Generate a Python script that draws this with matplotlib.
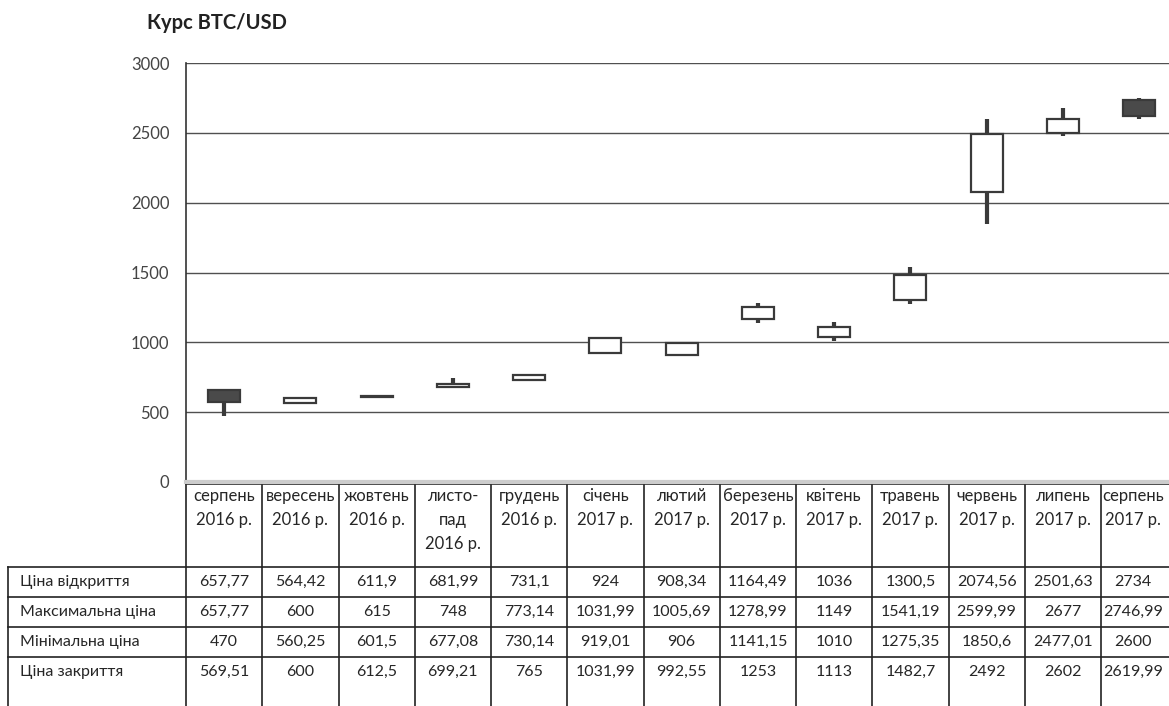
import matplotlib
matplotlib.use('Agg')
import matplotlib.pyplot as plt
import matplotlib.transforms as mtransforms

months = ['серпень\n2016 р.', 'вересень\n2016 р.', 'жовтень\n2016 р.', 'листо-\nпад\n2016 р.',
          'грудень\n2016 р.', 'січень\n2017 р.', 'лютий\n2017 р.', 'березень\n2017 р.',
          'квітень\n2017 р.', 'травень\n2017 р.', 'червень\n2017 р.', 'липень\n2017 р.',
          'серпень\n2017 р.']
open_p = [657.77, 564.42, 611.9, 681.99, 731.1, 924, 908.34, 1164.49, 1036, 1300.5, 2074.56, 2501.63, 2734]
high_p = [657.77, 600, 615, 748, 773.14, 1031.99, 1005.69, 1278.99, 1149, 1541.19, 2599.99, 2677, 2746.99]
low_p = [470, 560.25, 601.5, 677.08, 730.14, 919.01, 906, 1141.15, 1010, 1275.35, 1850.6, 2477.01, 2600]
close_p = [569.51, 600, 612.5, 699.21, 765, 1031.99, 992.55, 1253, 1113, 1482.7, 2492, 2602, 2619.99]
row_names = ['Ціна відкриття', 'Максимальна ціна', 'Мінімальна ціна', 'Ціна закриття']
yticks = [0, 500, 1000, 1500, 2000, 2500, 3000]

plt.rcParams['font.family'] = ['Lato', 'DejaVu Sans']

W, H = 1169, 706
fig = plt.figure(figsize=(W / 100, H / 100), dpi=100)
ax = fig.add_axes([186 / W, (H - 482) / H, 991.25 / W, 419 / H])

dark = '#3a3a3a'
txt = '#262626'
n = len(months)
xs = list(range(n))

# candles
ax.vlines(xs, low_p, high_p, color=dark, lw=3, zorder=3)
for i in xs:
    o, c = open_p[i], close_p[i]
    bottom = min(o, c)
    height = max(abs(c - o), 4)
    face = '#4a4a4a' if c < o else 'white'
    ax.bar(i, height, bottom=bottom, width=0.42, color=face, edgecolor=dark,
           linewidth=1.6, zorder=4)

ax.set_xlim(-0.5, n - 0.5)
ax.set_ylim(0, 3000)
ax.set_yticks(yticks)
ax.set_yticklabels([str(v) for v in yticks], fontsize=12, color='#444444')
ax.tick_params(axis='y', length=0, pad=12)
ax.set_xticks([])
ax.grid(axis='y', color='#505050', lw=1)
ax.set_axisbelow(True)
for s in ['top', 'right']:
    ax.spines[s].set_visible(False)
ax.spines['left'].set_color('#333333')
ax.spines['left'].set_linewidth(1.2)
ax.spines['bottom'].set_color('#cccccc')
ax.spines['bottom'].set_linewidth(3)

fig.text(147 / W, 1 - 23 / H, 'Курс BTC/USD', fontsize=14.5, fontweight='bold',
         va='center', ha='left', color='#222222')

# table below the chart
tr = mtransforms.blended_transform_factory(ax.transData, fig.transFigure)
fy = lambda py: 1 - py / H
line_kw = dict(color='#222222', lw=1.2, clip_on=False)

top_y, head_y = 484, 567
row_h = 30
row_tops = [head_y + k * row_h for k in range(4)]

ax.plot([-0.5, n], [fy(top_y), fy(top_y)], transform=tr, **line_kw)
for i in range(n + 1):
    x = i - 0.5
    ax.plot([x, x], [fy(top_y), 0], transform=tr, **line_kw)
for k, yt in enumerate(row_tops):
    fig.add_artist(plt.Line2D([8 / W, 1], [fy(yt), fy(yt)], transform=fig.transFigure,
                              color='#222222', lw=1.2))
fig.add_artist(plt.Line2D([8 / W, 8 / W], [fy(head_y), 0], transform=fig.transFigure,
                          color='#222222', lw=1.2))

# last column is clipped by the right edge, nudge its text to stay visible
xpos = [float(i) for i in xs]
xpos[-1] -= 0.08

for i, m in enumerate(months):
    ax.text(xpos[i], fy(488), m, transform=tr, ha='center', va='top', fontsize=12,
            linespacing=1.6, color=txt)

rows = [open_p, high_p, low_p, close_p]
fmt = lambda v: ('%g' % v).replace('.', ',')
for k, (name, vals) in enumerate(zip(row_names, rows)):
    yc = fy(row_tops[k] + row_h / 2)
    fig.text(20 / W, yc, name, ha='left', va='center', fontsize=11.5, color=txt)
    for i, v in enumerate(vals):
        ax.text(xpos[i], yc, fmt(v), transform=tr, ha='center', va='center', fontsize=11.5,
                color=txt)

fig.savefig('out.png', dpi=100)
